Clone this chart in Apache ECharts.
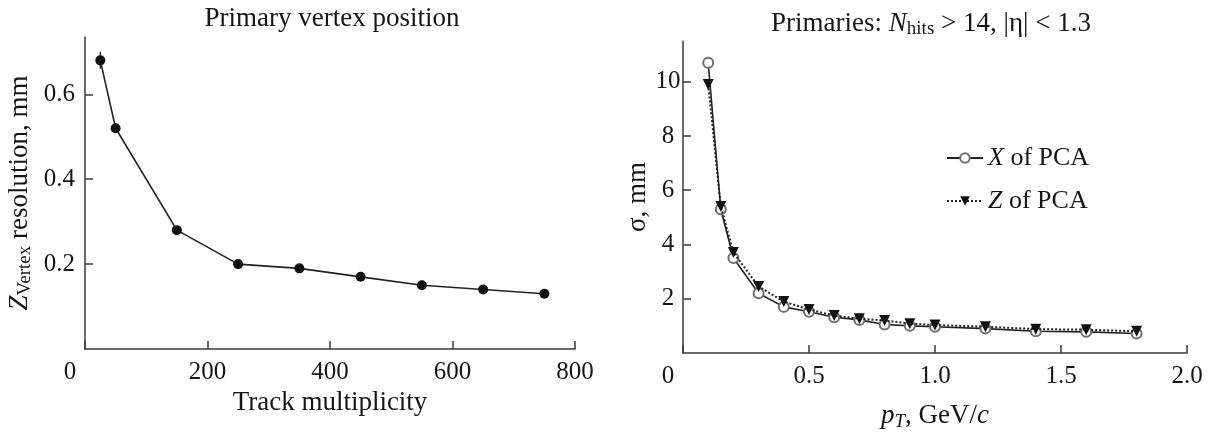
<!DOCTYPE html>
<html><head><meta charset="utf-8">
<script src="https://cdn.jsdelivr.net/npm/echarts@6/dist/echarts.min.js"></script>
<style>html,body{margin:0;padding:0;background:#fff}#c{width:1207px;height:436px}</style>
</head><body><div id="c"></div>
<script>
// ---- data ----
const trackMult = [25, 50, 150, 250, 350, 450, 550, 650, 750];
const zVertexRes = [0.68, 0.52, 0.28, 0.20, 0.19, 0.17, 0.15, 0.14, 0.13];
const zVertexErr = [0.02, 0, 0, 0, 0, 0, 0, 0, 0];
const ptValues = [0.1, 0.15, 0.2, 0.3, 0.4, 0.5, 0.6, 0.7, 0.8, 0.9, 1.0, 1.2, 1.4, 1.6, 1.8];
const sigmaX = [10.7, 5.3, 3.5, 2.2, 1.7, 1.52, 1.32, 1.22, 1.05, 1.0, 0.97, 0.9, 0.8, 0.78, 0.72];
const sigmaZ = [9.9, 5.4, 3.7, 2.45, 1.9, 1.6, 1.38, 1.26, 1.2, 1.08, 1.03, 0.97, 0.88, 0.86, 0.8];
const leftXTicks = [0, 200, 400, 600, 800];
const leftYTicks = [0.2, 0.4, 0.6];
const rightXTicks = [0, 0.5, 1.0, 1.5, 2.0];
const rightYTicks = [2, 4, 6, 8, 10];
const legendNames = ['X of PCA', 'Z of PCA'];

// ---- style ----
const F = '"Liberation Serif", "DejaVu Serif", serif';
const TXT = '#161616';
const AX = '#3a3a3a';
const LBL = 25, NAME = 27;

function tickStyle(vals) {
  return { show: true, inside: true, length: 8, customValues: vals, lineStyle: { color: AX, width: 1.5 } };
}
function axLine() { return { show: true, onZero: false, lineStyle: { color: AX, width: 1.5 } }; }
const zeroRich = { z: { fontFamily: F, fontSize: LBL, color: TXT, padding: [0, 30, 0, 0] } };

const chart = echarts.init(document.getElementById('c'), null, { renderer: 'canvas' });
chart.setOption({
  animation: false,
  backgroundColor: '#fff',
  title: [
    { text: 'Primary vertex position', left: 332, top: 5, textAlign: 'center', padding: 0,
      textStyle: { fontFamily: F, fontSize: NAME, fontWeight: 'normal', color: TXT } },
    { text: 'Primaries: {i|N}{s|hits} > 14, |η| < 1.3', left: 931, top: 8, textAlign: 'center', padding: 0,
      textStyle: { fontFamily: F, fontSize: NAME, fontWeight: 'normal', color: TXT,
        rich: { i: { fontFamily: F, fontSize: NAME, fontStyle: 'italic', color: TXT },
                s: { fontFamily: F, fontSize: 19, color: TXT, padding: [12, 0, 0, 0] } } } }
  ],
  legend: {
    orient: 'vertical', left: 946, top: 145, itemWidth: 36, itemHeight: 12, itemGap: 17, padding: 0,
    data: legendNames,
    formatter: n => '{i|' + n[0] + '}' + n.slice(1),
    textStyle: { fontFamily: F, fontSize: LBL + 1, color: TXT,
      rich: { i: { fontFamily: F, fontSize: LBL + 1, fontStyle: 'italic', color: TXT } } }
  },
  grid: [
    { left: 85, top: 37, width: 490, height: 312, containLabel: false },
    { left: 683, top: 41, width: 504, height: 312, containLabel: false }
  ],
  xAxis: [
    { type: 'value', gridIndex: 0, min: 0, max: 800,
      name: 'Track multiplicity', nameLocation: 'middle', nameGap: 39,
      nameTextStyle: { fontFamily: F, fontSize: NAME, color: TXT },
      axisLine: axLine(), axisTick: tickStyle(leftXTicks), splitLine: { show: false },
      axisLabel: { customValues: leftXTicks, margin: 11, fontFamily: F, fontSize: LBL, color: TXT,
        formatter: v => v === 0 ? '{z|0}' : String(v), rich: zeroRich } },
    { type: 'value', gridIndex: 1, min: 0, max: 2,
      name: '{i|p}{s|T}, GeV/{i|c}', nameLocation: 'middle', nameGap: 47,
      nameTextStyle: { fontFamily: F, fontSize: NAME, color: TXT,
        rich: { i: { fontFamily: F, fontSize: NAME, fontStyle: 'italic', color: TXT },
                s: { fontFamily: F, fontSize: 19, fontStyle: 'italic', color: TXT, padding: [12, 0, 0, 0] } } },
      axisLine: axLine(), axisTick: tickStyle(rightXTicks), splitLine: { show: false },
      axisLabel: { customValues: rightXTicks, margin: 11, fontFamily: F, fontSize: LBL, color: TXT,
        formatter: v => v === 0 ? '{z|0}' : v.toFixed(1), rich: zeroRich } }
  ],
  yAxis: [
    { type: 'value', gridIndex: 0, min: 0, max: 0.735,
      name: '{i|Z}{s|Vertex} resolution, mm', nameLocation: 'middle', nameGap: 50,
      nameTextStyle: { fontFamily: F, fontSize: NAME, color: TXT,
        rich: { i: { fontFamily: F, fontSize: NAME, fontStyle: 'italic', color: TXT },
                s: { fontFamily: F, fontSize: 19, color: TXT, padding: [12, 0, 0, 0] } } },
      axisLine: axLine(), axisTick: tickStyle(leftYTicks), splitLine: { show: false },
      axisLabel: { customValues: leftYTicks, margin: 10, fontFamily: F, fontSize: LBL, color: TXT,
        formatter: v => v.toFixed(1) } },
    { type: 'value', gridIndex: 1, min: 0, max: 11.5,
      name: 'σ, mm', nameLocation: 'middle', nameGap: 32,
      nameTextStyle: { fontFamily: F, fontSize: NAME, color: TXT },
      axisLine: axLine(), axisTick: tickStyle(rightYTicks), splitLine: { show: false },
      axisLabel: { customValues: rightYTicks, margin: 15, align: 'center', fontFamily: F, fontSize: LBL, color: TXT,
        formatter: v => String(v) } }
  ],
  series: [
    { type: 'line', xAxisIndex: 0, yAxisIndex: 0,
      data: trackMult.map((x, i) => [x, zVertexRes[i]]),
      symbol: 'circle', symbolSize: 10, itemStyle: { color: '#111' },
      lineStyle: { color: '#222', width: 1.6 }, z: 3 },
    { type: 'custom', xAxisIndex: 0, yAxisIndex: 0,
      data: trackMult.map((x, i) => [x, zVertexRes[i], zVertexErr[i]]),
      renderItem: (params, api) => {
        const e = api.value(2);
        if (!e) return null;
        const p1 = api.coord([api.value(0), api.value(1) + e]);
        const p2 = api.coord([api.value(0), api.value(1) - e]);
        return { type: 'line', shape: { x1: p1[0], y1: p1[1], x2: p2[0], y2: p2[1] },
          style: { stroke: '#222', lineWidth: 1.3 } };
      }, z: 2 },
    { name: legendNames[0], type: 'line', xAxisIndex: 1, yAxisIndex: 1,
      data: ptValues.map((x, i) => [x, sigmaX[i]]),
      symbol: 'emptyCircle', symbolSize: 10,
      itemStyle: { color: '#6e6e6e', borderWidth: 1.3 },
      lineStyle: { color: '#222', width: 1.6 }, z: 3 },
    { name: legendNames[1], type: 'line', xAxisIndex: 1, yAxisIndex: 1,
      data: ptValues.map((x, i) => [x, sigmaZ[i]]),
      symbol: 'triangle', symbolRotate: 180, symbolSize: 11,
      itemStyle: { color: '#111' },
      lineStyle: { color: '#222', width: 2, type: 'dotted' }, z: 4 }
  ]
});
</script>
</body></html>
